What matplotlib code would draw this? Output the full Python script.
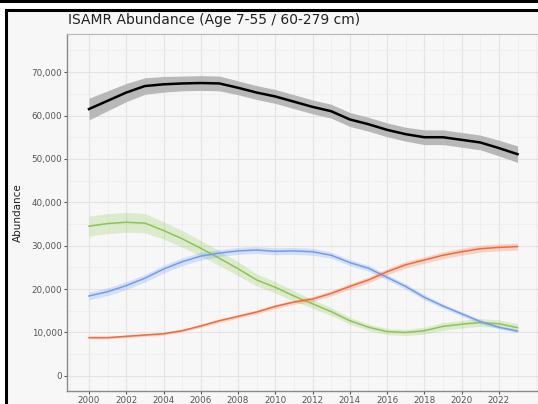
import matplotlib.pyplot as plt
from matplotlib.patches import Rectangle
from matplotlib.ticker import FuncFormatter, MultipleLocator

years = list(range(2000, 2024))
x_ticks = list(range(2000, 2023, 2))

total = [61500, 63400, 65300, 66800, 67200, 67400, 67500, 67400, 66400, 65300,
         64400, 63200, 62000, 61000, 59100, 58000, 56700, 55700, 55000, 55000,
         54400, 53800, 52500, 51100]
total_se = [2500, 2300, 2100, 1900, 1800, 1700, 1700, 1700, 1600, 1600,
            1600, 1600, 1600, 1600, 1600, 1600, 1600, 1600, 1700, 1700,
            1700, 1700, 1800, 1900]

green = [34500, 35100, 35400, 35200, 33500, 31600, 29400, 27100, 24700, 22100,
         20400, 18400, 16600, 14800, 12700, 11200, 10200, 10000, 10400, 11400,
         11900, 12300, 12000, 11100]
green_se = [2300, 2300, 2300, 2200, 2000, 1900, 1800, 1700, 1600, 1400,
            1300, 1200, 1000, 900, 800, 700, 700, 700, 800, 900,
            900, 900, 900, 900]

blue = [18400, 19400, 20800, 22500, 24600, 26300, 27600, 28300, 28800, 29000,
        28700, 28800, 28600, 27800, 26100, 24800, 22700, 20600, 18100, 16100,
        14300, 12500, 11200, 10300]
blue_se = [900, 900, 900, 900, 900, 900, 900, 800, 800, 800,
           800, 800, 800, 700, 700, 700, 600, 600, 600, 500,
           500, 500, 400, 400]

orange = [8800, 8800, 9100, 9400, 9700, 10400, 11500, 12700, 13700, 14700,
          16000, 17000, 17700, 19000, 20600, 22100, 24000, 25600, 26700, 27800,
          28600, 29300, 29600, 29800]
orange_se = [300, 300, 300, 300, 300, 300, 350, 400, 400, 450,
             500, 500, 550, 600, 650, 700, 700, 750, 750, 800,
             800, 800, 800, 800]

fig = plt.figure(figsize=(5.38, 4.04), dpi=100)
fig.patch.set_facecolor("white")

# outer screenshot frame
W, H = 538, 404
fig.patches.append(Rectangle((0, 1 - 3 / H), 1, 3 / H, transform=fig.transFigure,
                             facecolor="black", edgecolor="none", zorder=-2))
fig.patches.append(Rectangle((5.5 / W, -0.05), 1.1, 1 - 10 / H + 0.05,
                             transform=fig.transFigure, facecolor="#f7f7f7",
                             edgecolor="black", linewidth=2.2, zorder=-2))

ax = fig.add_axes([67 / W, 1 - 391 / H, (W - 67) / W, (391 - 34) / H])
ax.set_zorder(1)
ax.set_facecolor("#f7f7f7")

series = [
    (total, total_se, "black", "#b8b8b8", 1.0, 1.8),
    (green, green_se, "#8cc552", "#8cc552", 0.25, 1.1),
    (blue, blue_se, "#6f9cf2", "#6f9cf2", 0.25, 1.1),
    (orange, orange_se, "#f5683a", "#f5683a", 0.25, 1.1),
]
for vals, se, col, fcol, alpha, lw in series:
    lo = [v - s for v, s in zip(vals, se)]
    hi = [v + s for v, s in zip(vals, se)]
    ax.fill_between(years, lo, hi, color=fcol, alpha=alpha, linewidth=0, zorder=2)
    ax.plot(years, vals, color=col, linewidth=lw, zorder=3)

ax.set_xlim(1998.82, 2024.1)
ax.set_ylim(-3500, 78800)
ax.set_xticks(x_ticks)
ax.xaxis.set_minor_locator(MultipleLocator(1))
ax.yaxis.set_major_locator(MultipleLocator(10000))
ax.yaxis.set_minor_locator(MultipleLocator(5000))
ax.yaxis.set_major_formatter(FuncFormatter(lambda v, p: f"{int(v):,}"))
ax.grid(which="major", color="#e4e4e4", linewidth=0.8, zorder=0)
ax.grid(which="minor", color="#ececec", linewidth=0.5, zorder=0)
ax.set_axisbelow(True)

ax.tick_params(which="major", labelsize=6.3, labelcolor="#555555", color="#555555",
               length=2.2, width=0.8, pad=1.2)
ax.tick_params(which="minor", length=0)

for s in ["left", "bottom"]:
    ax.spines[s].set_color("#8a8a8a")
    ax.spines[s].set_linewidth(1.0)
ax.spines["top"].set_color("#b8b8b8")
ax.spines["right"].set_visible(False)

ax.set_ylabel("Abundance", fontsize=7.5, color="#222222", labelpad=6)
fig.text(68 / W, 1 - 20 / H, "ISAMR Abundance (Age 7-55 / 60-279 cm)",
         fontsize=10, color="#222222", va="center", ha="left")

fig.savefig("out.png", dpi=100)
